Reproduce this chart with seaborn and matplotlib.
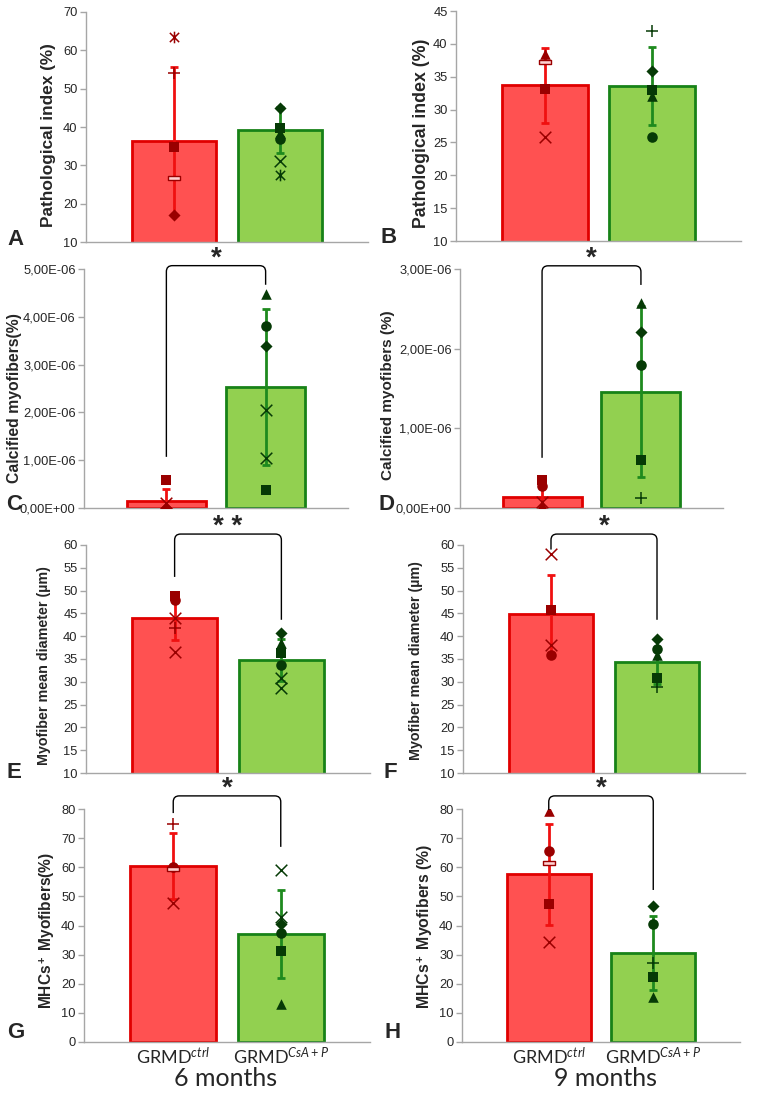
import matplotlib
matplotlib.use("Agg")
import matplotlib.pyplot as plt
import seaborn as sns
from matplotlib.path import Path
from matplotlib.patches import PathPatch
from matplotlib.ticker import FuncFormatter

# ---- data ----
groups = ["ctrl", "CsA+P"]
tick_labels = [r"GRMD$^{\it ctrl}$", r"GRMD$^{\it CsA+P}$"]

# A - pathological index, 6 months
a_means = [36.4, 39.2]
a_sd = [19.3, 6.0]
a_ctrl = [63.5, 54.0, 34.9, 26.6, 17.0]
a_ctrl_mk = ["star", "plus", "sq", "dash", "di"]
a_csa = [44.9, 39.7, 38.5, 36.8, 31.1, 27.5]
a_csa_mk = ["di", "sq", "tri", "ci", "x", "star"]

# B - pathological index, 9 months
b_means = [33.7, 33.6]
b_sd = [5.7, 5.9]
b_ctrl = [38.4, 37.3, 33.1, 25.9]
b_ctrl_mk = ["tri", "dash", "sq", "x"]
b_csa = [41.9, 35.9, 33.0, 32.0, 25.9]
b_csa_mk = ["plus", "di", "sq", "tri", "ci"]

# C - calcified myofibers, 6 months (x1e-6)
c_means = [0.15, 2.53]
c_sd = [0.24, 1.63]
c_ctrl = [0.59, 0.10, 0.01]
c_ctrl_mk = ["sq", "x", "di"]
c_csa = [4.48, 3.81, 3.39, 2.05, 1.04, 0.38]
c_csa_mk = ["tri", "ci", "di", "x", "x", "sq"]

# D - calcified myofibers, 9 months (x1e-6)
d_means = [0.14, 1.46]
d_sd = [0.25, 1.07]
d_ctrl = [0.35, 0.27, 0.07, 0.04]
d_ctrl_mk = ["sq", "ci", "x", "tri"]
d_csa = [2.57, 2.21, 1.79, 0.60, 0.12]
d_csa_mk = ["tri", "di", "ci", "sq", "plus"]

# E - mean diameter, 6 months
e_means = [43.9, 34.8]
e_sd = [4.7, 4.6]
e_ctrl = [48.8, 48.0, 44.1, 41.9, 36.6]
e_ctrl_mk = ["sq", "ci", "x", "plus", "x"]
e_csa = [40.6, 38.6, 36.3, 33.7, 30.8, 28.6]
e_csa_mk = ["di", "tri", "sq", "ci", "x", "x"]

# F - mean diameter, 9 months
f_means = [44.9, 34.4]
f_sd = [8.6, 4.9]
f_ctrl = [58.0, 45.7, 38.1, 35.9]
f_ctrl_mk = ["x", "sq", "x", "ci"]
f_csa = [39.4, 37.1, 35.9, 30.9, 28.9]
f_csa_mk = ["di", "ci", "tri", "sq", "plus"]

# G - MHCs+ myofibers, 6 months
g_means = [60.4, 37.2]
g_sd = [11.2, 15.1]
g_ctrl = [74.7, 60.2, 59.5, 47.8]
g_ctrl_mk = ["plus", "ci", "dash", "x"]
g_csa = [59.1, 42.8, 40.5, 37.3, 31.4, 12.9]
g_csa_mk = ["x", "x", "di", "ci", "sq", "tri"]

# H - MHCs+ myofibers, 9 months
h_means = [57.6, 30.5]
h_sd = [17.3, 12.7]
h_ctrl = [79.3, 65.6, 61.6, 47.3, 34.4]
h_ctrl_mk = ["tri", "ci", "dash", "sq", "x"]
h_csa = [46.7, 40.4, 27.2, 22.4, 15.6]
h_csa_mk = ["di", "ci", "plus", "sq", "tri"]

# ---- style ----
sns.set_theme(style="white")
plt.rcParams['font.family'] = ['Liberation Sans', 'DejaVu Sans']
plt.rcParams['mathtext.fontset'] = 'custom'
plt.rcParams['mathtext.rm'] = 'Lato'
plt.rcParams['mathtext.it'] = 'Lato:italic'
plt.rcParams['mathtext.bf'] = 'Liberation Sans:bold'

bar_fill = ["#FF5151", "#92D050"]
bar_edge = ["#E00000", "#178217"]
err_col = ["#F01010", "#1E8A1E"]
pt_col = ["#9A0000", "#063A06"]
axis_grey = "#A6A6A6"

M, L, C = Path.MOVETO, Path.LINETO, Path.CLOSEPOLY
STAR = Path([(-1, -1), (1, 1), (-1, 1), (1, -1), (0, -1.25), (0, 1.25)],
            [M, L, M, L, M, L])
DASH = Path([(-1, -0.35), (1, -0.35), (1, 0.35), (-1, 0.35), (-1, -0.35)],
            [M, L, L, L, C])

W, H = 757, 1095


def rect(l, r, t, b):
    return [l / W, 1 - b / H, (r - l) / W, (b - t) / H]


def points(ax, xpos, vals, marks, col, fill):
    for v, m in zip(vals, marks):
        if m == "sq":
            ax.scatter(xpos, v, marker="s", s=48, color=col, zorder=5, linewidths=0)
        elif m == "di":
            ax.scatter(xpos, v, marker="D", s=38, color=col, zorder=5, linewidths=0)
        elif m == "tri":
            ax.scatter(xpos, v, marker="^", s=58, color=col, zorder=5, linewidths=0)
        elif m == "ci":
            ax.scatter(xpos, v, marker="o", s=58, color=col, zorder=5, linewidths=0)
        elif m == "x":
            ax.scatter(xpos, v, marker="x", s=70, color=col, zorder=5, linewidths=1.1)
        elif m == "plus":
            ax.scatter(xpos, v, marker="+", s=80, color=col, zorder=5, linewidths=1.1)
        elif m == "star":
            ax.scatter(xpos, v, marker=STAR, s=70, color=col, zorder=5, linewidths=1.1)
        elif m == "dash":
            ax.scatter(xpos, v, marker=DASH, s=70, facecolor=fill, edgecolor=col,
                       zorder=5, linewidths=1.0)


def panel(pos, means, sd, ctrl, ctrl_mk, csa, csa_mk, ylim, yticks, ylabel,
          lsize, lxy, sci=False, xlabels=False):
    ax = fig.add_axes(rect(*pos))
    sns.barplot(x=groups, y=means, hue=groups, palette=bar_fill, legend=False,
                width=0.8, ax=ax, linewidth=2, saturation=1)
    for p, ec in zip(ax.patches, bar_edge):
        p.set_edgecolor(ec)
    for i in range(2):
        ax.errorbar([i], [means[i]], yerr=[sd[i]], fmt="none", ecolor=err_col[i],
                    elinewidth=2, capsize=3, capthick=2, zorder=4)
    points(ax, 0, ctrl, ctrl_mk, pt_col[0], "#FFD0D0")
    points(ax, 1, csa, csa_mk, pt_col[1], "#D8F0C0")
    ax.set_xlim(-0.83, 1.83)
    ax.set_ylim(*ylim)
    ax.set_yticks(yticks)
    if sci:
        ax.yaxis.set_major_formatter(
            FuncFormatter(lambda v, p: f"{v * 1e-6:.2E}".replace(".", ",")))
    for s in ["top", "right"]:
        ax.spines[s].set_visible(False)
    for s in ["left", "bottom"]:
        ax.spines[s].set_color(axis_grey)
        ax.spines[s].set_linewidth(1)
    ax.tick_params(axis="y", left=True, length=4, width=1, color=axis_grey,
                   labelsize=9.3, labelcolor="#262626", pad=2)
    ax.set_ylabel("")
    ax.set_xlabel("")
    fig.text(lxy[0] / W, 1 - lxy[1] / H, ylabel, fontsize=lsize, fontweight="bold",
             rotation=90, ha="center", va="center")
    if xlabels:
        ax.set_xticks([0, 1])
        ax.set_xticklabels(tick_labels, fontsize=13, family="Lato")
        ax.tick_params(axis="x", bottom=False, pad=-3)
    else:
        ax.set_xticks([])
    return ax


def bracket(ax, yl, yr, ytop, text, tsize=20):
    x0, y0 = ax.transData.transform((0, 0))
    x1, y1 = ax.transData.transform((1, 1))
    rx = 6 / (x1 - x0)
    ry = 6 / (y1 - y0)
    Q = Path.CURVE3
    verts = [(0, yl), (0, ytop - ry), (0, ytop), (rx, ytop),
             (1 - rx, ytop), (1, ytop), (1, ytop - ry), (1, yr)]
    codes = [M, L, Q, Q, L, Q, Q, L]
    ax.add_patch(PathPatch(Path(verts, codes), fill=False, edgecolor="black",
                           linewidth=1, clip_on=False, zorder=6))
    ax.text(0.5, ytop, text, ha="center", va="baseline", fontsize=tsize,
            fontweight="bold", clip_on=False)


fig = plt.figure(figsize=(W / 100, H / 100), dpi=100)

axA = panel((86, 368, 12, 242), a_means, a_sd, a_ctrl, a_ctrl_mk, a_csa, a_csa_mk,
            (10, 70), range(10, 71, 10), "Pathological index (%)", 12.4, (49, 135))
axB = panel((456, 741, 11, 241), b_means, b_sd, b_ctrl, b_ctrl_mk, b_csa, b_csa_mk,
            (10, 45), range(10, 46, 5), "Pathological index (%)", 12.8, (421, 133))
axC = panel((84, 348, 269, 508), c_means, c_sd, c_ctrl, c_ctrl_mk, c_csa, c_csa_mk,
            (0, 5), range(0, 6), "Calcified myofibers(%)", 11.3, (15, 398), sci=True)
axD = panel((460, 723, 269, 508), d_means, d_sd, d_ctrl, d_ctrl_mk, d_csa, d_csa_mk,
            (0, 3), range(0, 4), "Calcified myofibers (%)", 11.0, (388, 395), sci=True)
axE = panel((86, 370, 545, 773), e_means, e_sd, e_ctrl, e_ctrl_mk, e_csa, e_csa_mk,
            (10, 60), range(10, 61, 5), "Myofiber mean diameter (µm)", 10.3, (44, 666))
axF = panel((463, 745, 545, 773), f_means, f_sd, f_ctrl, f_ctrl_mk, f_csa, f_csa_mk,
            (10, 60), range(10, 61, 5), "Myofiber mean diameter (µm)", 10.3, (416, 661))
axG = panel((84, 370, 809, 1042), g_means, g_sd, g_ctrl, g_ctrl_mk, g_csa, g_csa_mk,
            (0, 80), range(0, 81, 10), r"MHCs$^{\bf +}$ Myofibers(%)", 11.2, (47, 930),
            xlabels=True)
axH = panel((462, 740, 809, 1042), h_means, h_sd, h_ctrl, h_ctrl_mk, h_csa, h_csa_mk,
            (0, 80), range(0, 81, 10), r"MHCs$^{\bf +}$ Myofibers (%)", 11.4, (425, 926),
            xlabels=True)

# significance brackets
bracket(axC, 1.07, 4.67, 5.07, "*")
bracket(axD, 0.63, 2.80, 3.04, "*")
bracket(axE, 53.0, 43.6, 62.4, "* *")
bracket(axF, 59.0, 43.6, 62.4, "*")
bracket(axG, 78.6, 67.0, 84.5, "*")
bracket(axH, 79.7, 52.2, 84.5, "*")

# panel letters
for letter, x, y in [("A", 7, 245), ("B", 381, 243), ("C", 6, 510), ("D", 379, 510),
                     ("E", 7, 778), ("F", 383, 778), ("G", 7, 1038), ("H", 385, 1038)]:
    fig.text(x / W, 1 - y / H, letter, fontsize=16, fontweight="bold",
             ha="left", va="baseline")

fig.text(226 / W, 1 - 1086 / H, "6 months", fontsize=18, family="Lato",
         ha="center", va="baseline")
fig.text(605 / W, 1 - 1086 / H, "9 months", fontsize=18, family="Lato",
         ha="center", va="baseline")

fig.savefig("out.png", dpi=100)
